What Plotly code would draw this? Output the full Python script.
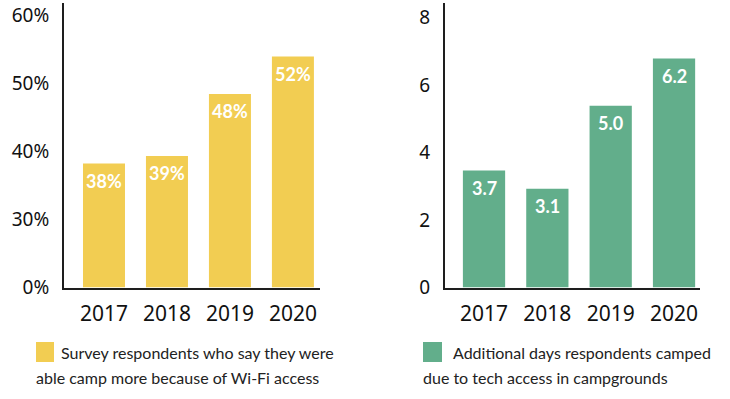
import plotly.graph_objects as go

years = ["2017", "2018", "2019", "2020"]
# Left panel: share of respondents (bar heights, labels as printed)
wifi_pct = [38.2, 39.3, 48.4, 53.9]
wifi_labels = ["38%", "39%", "48%", "52%"]
left_tick_values = [0, 30, 40, 50, 60]
left_tick_text = ["0%", "30%", "40%", "50%", "60%"]
# Right panel: additional days camped
extra_days = [3.47, 2.93, 5.39, 6.79]
days_labels = ["3.7", "3.1", "5.0", "6.2"]
right_tick_values = [0, 2, 4, 6, 8]

legend_left = ["Survey respondents who say they were", "able camp more because of Wi-Fi access"]
legend_right = ["Additional days respondents camped", "due to tech access in campgrounds"]

YELLOW = "#F2CD52"
GREEN = "#62AE8B"
AXIS = "#1e1e1e"
W, H = 730, 399

# broken left axis: 0% then 30%..60% evenly spaced
def brk(v):
    return v - 20 if v >= 30 else v * 10 / 30

fig = go.Figure()
fig.add_trace(go.Bar(x=years, y=[brk(v) for v in wifi_pct], marker_color=YELLOW,
                     marker_line_width=0, width=0.667, xaxis="x", yaxis="y",
                     hoverinfo="skip"))
fig.add_trace(go.Bar(x=years, y=extra_days, marker_color=GREEN,
                     marker_line_width=0, width=0.667, xaxis="x2", yaxis="y2",
                     hoverinfo="skip"))

labfont = dict(family="Lato", size=18, color="white", weight="bold")
for i, (v, t) in enumerate(zip(wifi_pct, wifi_labels)):
    fig.add_annotation(x=i, y=brk(v), xref="x", yref="y", text=t, showarrow=False,
                       yanchor="top", yshift=-4, font=labfont)
for i, (v, t) in enumerate(zip(extra_days, days_labels)):
    fig.add_annotation(x=i, y=v, xref="x2", yref="y2", text=t, showarrow=False,
                       yanchor="top", yshift=-4, font=labfont)

ybot = 1 - 287.5 / H
ytop = 1 - 3 / H
tickfont = dict(family="Noto Sans", size=19, color="#111")
yearfont = dict(family="Noto Sans", size=21, color="#111")

common_x = dict(type="category", showline=True, linecolor=AXIS, linewidth=2,
                showgrid=False, zeroline=False, ticks="outside", ticklen=6,
                tickcolor="rgba(0,0,0,0)", tickfont=yearfont, fixedrange=True,
                automargin=False)
common_y = dict(showline=True, linecolor=AXIS, linewidth=2, showgrid=False,
                zeroline=False, ticks="outside", ticklen=9,
                tickcolor="rgba(0,0,0,0)", tickfont=tickfont, fixedrange=True,
                automargin=False)

fig.update_layout(
    width=W, height=H, margin=dict(l=0, r=0, t=0, b=0, autoexpand=False),
    paper_bgcolor="white", plot_bgcolor="white", showlegend=False,
    xaxis=dict(domain=[64 / W, 320 / W], range=[-0.635, 3.43], anchor="y", **common_x),
    yaxis=dict(domain=[ybot, ytop], range=[0, 41.77], anchor="x",
               tickvals=[brk(v) for v in left_tick_values], ticktext=left_tick_text,
               **common_y),
    xaxis2=dict(domain=[445 / W, 700 / W], range=[-0.616, 3.41], anchor="y2", **common_x),
    yaxis2=dict(domain=[ybot, ytop], range=[0, 8.44], anchor="x2",
                tickvals=right_tick_values, **common_y),
)

legfont = dict(family="Lato", size=16, color="#222")
# legend squares
fig.add_shape(type="rect", xref="paper", yref="paper", x0=36 / W, x1=54 / W,
              y0=1 - 362 / H, y1=1 - 342 / H, fillcolor=YELLOW, line_width=0)
fig.add_shape(type="rect", xref="paper", yref="paper", x0=423 / W, x1=442 / W,
              y0=1 - 362 / H, y1=1 - 342 / H, fillcolor=GREEN, line_width=0)
fig.add_annotation(xref="paper", yref="paper", x=59 / W, y=1 - 352 / H, text=legend_left[0],
                   xanchor="left", yanchor="middle", showarrow=False, font=legfont)
fig.add_annotation(xref="paper", yref="paper", x=34 / W, y=1 - 377 / H, text=legend_left[1],
                   xanchor="left", yanchor="middle", showarrow=False, font=legfont)
fig.add_annotation(xref="paper", yref="paper", x=451 / W, y=1 - 352 / H, text=legend_right[0],
                   xanchor="left", yanchor="middle", showarrow=False, font=legfont)
fig.add_annotation(xref="paper", yref="paper", x=421 / W, y=1 - 377 / H, text=legend_right[1],
                   xanchor="left", yanchor="middle", showarrow=False, font=legfont)

fig.write_html("out.html", config={"displayModeBar": False},
               post_script="document.body.style.margin='0';")
